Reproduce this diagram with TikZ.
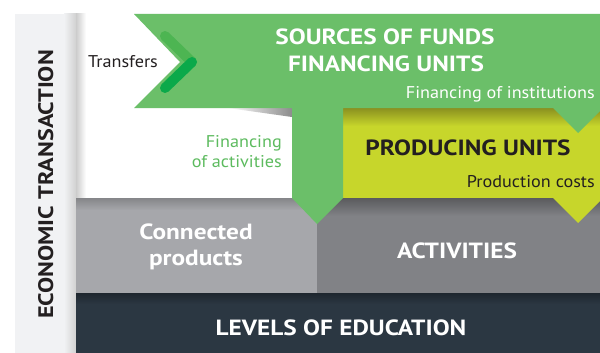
\documentclass[tikz,border=0pt]{standalone}
\usepackage{fontspec}
\setmainfont{PT Sans}[FakeStretch=1.07]
\newfontfamily\headfont{PT Sans}[FakeStretch=1.15]
\definecolor{fundgreen}{HTML}{6BBF69}
\definecolor{chevA}{HTML}{4DB552}
\definecolor{chevB}{HTML}{0BA94A}
\definecolor{produce}{HTML}{C7D62B}
\definecolor{olive}{HTML}{8A9020}
\definecolor{lightgr}{HTML}{A6A7AB}
\definecolor{darkgr}{HTML}{818286}
\definecolor{navy}{HTML}{2B3742}
\definecolor{barbg}{HTML}{F1F2F4}
\definecolor{ink}{HTML}{231F20}
\definecolor{greentext}{HTML}{5DBB5F}
\tikzset{
  head/.style={font=\headfont\bfseries\fontsize{22}{26}\selectfont, inner sep=0pt},
  small/.style={font=\fontsize{17}{20}\selectfont, inner sep=0pt},
}
\begin{document}
\begin{tikzpicture}[x=1pt,y=-1pt]
\useasboundingbox (0,0) rectangle (600,353);
\fill[white] (0,0) rectangle (600,353);
% left bar
\fill[barbg] (15,14) rectangle (76,353);
\shade[left color=barbg, right color=black!18] (64,14) rectangle (76,353);
\shade[left color=black!20, right color=white] (76,14) rectangle (86,198);
% grey boxes
\fill[lightgr] (76,198) rectangle (317,293);
\shade[top color=lightgr!80!black, bottom color=lightgr] (76,198) rectangle (317,210);
\fill[darkgr] (317,198) rectangle (600,293);
\shade[top color=darkgr!70!black, bottom color=darkgr] (317,198) rectangle (600,216);
% navy band
\fill[navy] (76,293) rectangle (600,353);
\shade[top color=navy!70!black, bottom color=navy] (76,293) rectangle (600,304);
% producing units
\fill[produce] (343,108) rectangle (600,198);
\fill[produce] (553,198) -- (578,223) -- (603,198) -- cycle;
\shade[top color=olive, bottom color=produce] (343,108) rectangle (600,126);
% shadow under green
\shade[left color=white, right color=black!45] (228,108) -- (292,108) -- (292,117) -- cycle;
% green shape
\fill[fundgreen] (134,14) -- (603,14) -- (603,108) -- (578,133) -- (553,108)
  -- (343,108) -- (343,198) -- (317,224) -- (292,198) -- (292,108)
  -- (134,108) -- (180,62) -- cycle;
% chevron
\coordinate (chevtop) at (165,36);
\coordinate (chevtip) at (192,62);
\coordinate (chevbot) at (165,88);
\draw[chevA, line width=10pt, line cap=round] (chevtop) -- (chevtip);
\draw[chevB, line width=10pt, line cap=round] (chevtip) -- (chevbot);
% texts
\node[head, white, anchor=base] (src) at (385,45) {SOURCES OF FUNDS};
\node[head, white, anchor=base] (fin) at (386,72) {FINANCING UNITS};
\node[small, white, anchor=base east] (finst) at (595,99) {Financing of institutions};
\node[head, ink, anchor=base] (prod) at (468,155) {PRODUCING UNITS};
\node[small, ink, anchor=base east] (pcost) at (595,187) {Production costs};
\node[small, ink, anchor=base west] (transf) at (88,68) {Transfers};
\node[small, greentext, anchor=base east, align=right] (finact) at (282,167) {Financing\\of activities};
\node[head, white, anchor=base, align=center] (conn) at (196,265) {Connected\\products};
\node[head, white, anchor=base] (act) at (457,258) {ACTIVITIES};
\node[head, white, anchor=base] (lev) at (341,335) {LEVELS OF EDUCATION};
\node[font=\headfont\bfseries\fontsize{21}{25}\selectfont, inner sep=0pt, ink, rotate=90, anchor=base] (econ) at (53,184.5) {ECONOMIC TRANSACTION};
\end{tikzpicture}
\end{document}
